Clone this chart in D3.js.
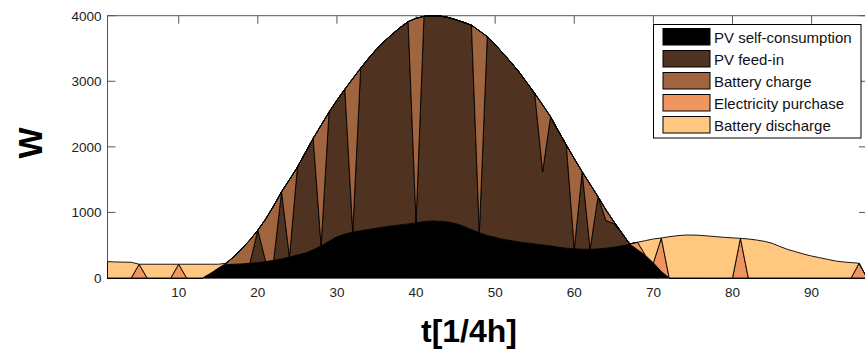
<!DOCTYPE html>
<html>
<head>
<meta charset="utf-8">
<script src="https://cdn.jsdelivr.net/npm/d3@7"></script>
<style>
  body { margin: 0; background: #fff; }
  svg { display: block; font-family: Arial, "Liberation Sans", sans-serif; }
</style>
</head>
<body>
<div id="chart"></div>
<script>
// quarter-hour time steps (one extra step closes the last patch)
const steps = d3.range(1, 98);

const seriesNames = ['PV self-consumption', 'PV feed-in', 'Battery charge', 'Electricity purchase', 'Battery discharge'];
const seriesColors = ['#000000', '#503220', '#a0643f', '#ef955f', '#ffc77f'];

const selfConsumption = [
  0, 0, 0, 0, 0, 0, 0, 0, 0, 0, 0, 0, 0, 70, 150, 205, 210, 215, 225, 235,
  250, 270, 290, 320, 350, 380, 430, 490, 560, 630, 670, 700, 720, 740, 760, 780, 795, 810, 825, 840,
  860, 870, 865, 855, 830, 790, 740, 690, 650, 620, 590, 570, 550, 535, 520, 505, 490, 470, 455, 445,
  440, 438, 445, 455, 470, 490, 510, 430, 345, 230, 100, 0, 0, 0, 0, 0, 0, 0, 0, 0,
  0, 0, 0, 0, 0, 0, 0, 0, 0, 0, 0, 0, 0, 0, 0, 0, 0
];
const pvFeedIn = [
  0, 0, 0, 0, 0, 0, 0, 0, 0, 0, 0, 0, 0, 0, 0, 0, 0, 0, 0, 495,
  0, 0, 1026, 0, 1340, 1530, 1700, 0, 1970, 2080, 2210, 0, 2480, 2610, 2730, 2830, 2925, 3010, 3085, 0,
  3130, 3130, 3130, 3120, 3110, 3110, 3115, 0, 3030, 2940, 2835, 2720, 2595, 2445, 2295, 1115, 1970, 1770, 1572, 0,
  1180, 0, 795, 420, 360, 200, 10, 0, 0, 0, 0, 0, 0, 0, 0, 0, 0, 0, 0, 0,
  0, 0, 0, 0, 0, 0, 0, 0, 0, 0, 0, 0, 0, 0, 0, 0, 0
];
const batteryCharge = [
  0, 0, 0, 0, 0, 0, 0, 0, 0, 0, 0, 0, 0, 0, 0, 20, 120, 235, 355, 0,
  650, 830, 0, 1180, 0, 0, 0, 1840, 0, 0, 0, 2340, 0, 0, 0, 0, 0, 0, 0, 3120,
  0, 0, 0, 0, 0, 0, 0, 3080, 0, 0, 0, 0, 0, 0, 0, 1020, 0, 0, 0, 1375,
  0, 992, 0, 165, 30, 0, 0, 0, 0, 0, 0, 0, 0, 0, 0, 0, 0, 0, 0, 0,
  0, 0, 0, 0, 0, 0, 0, 0, 0, 0, 0, 0, 0, 0, 0, 0, 0
];
const electricityPurchase = [
  0, 0, 0, 0, 210, 0, 0, 0, 0, 210, 0, 0, 0, 0, 0, 0, 0, 0, 0, 0,
  0, 0, 0, 0, 0, 0, 0, 0, 0, 0, 0, 0, 0, 0, 0, 0, 0, 0, 0, 0,
  0, 0, 0, 0, 0, 0, 0, 0, 0, 0, 0, 0, 0, 0, 0, 0, 0, 0, 0, 0,
  0, 0, 0, 0, 0, 0, 0, 115, 0, 0, 510, 0, 0, 0, 0, 0, 0, 0, 0, 0,
  605, 0, 0, 0, 0, 0, 0, 0, 0, 0, 0, 0, 0, 0, 0, 225, 0
];
const batteryDischarge = [
  250, 245, 242, 240, 0, 210, 210, 210, 210, 0, 210, 210, 210, 140, 60, 0, 0, 0, 0, 0,
  0, 0, 0, 0, 0, 0, 0, 0, 0, 0, 0, 0, 0, 0, 0, 0, 0, 0, 0, 0,
  0, 0, 0, 0, 0, 0, 0, 0, 0, 0, 0, 0, 0, 0, 0, 0, 0, 0, 0, 0,
  0, 0, 0, 0, 0, 0, 0, 0, 225, 365, 0, 630, 645, 655, 655, 650, 640, 630, 620, 612,
  0, 595, 580, 560, 530, 480, 435, 400, 365, 335, 310, 285, 260, 245, 235, 0, 0
];

const xTicks = [10, 20, 30, 40, 50, 60, 70, 80, 90];
const yTicks = [0, 1000, 2000, 3000, 4000];

const W = 865, H = 351;
const plot = {left: 107.5, top: 15.7, right: 867, bottom: 278};

const svg = d3.select('#chart').append('svg').attr('width', W).attr('height', H);

const x = d3.scaleLinear().domain([1, 97]).range([plot.left, plot.right]);
const y = d3.scaleLinear().domain([0, 4000]).range([plot.bottom, plot.top]);

// table for the stack
const table = steps.map((t, i) => ({
  t: t,
  s0: selfConsumption[i], s1: pvFeedIn[i], s2: batteryCharge[i],
  s3: electricityPurchase[i], s4: batteryDischarge[i]
}));
const keys = ['s0', 's1', 's2', 's3', 's4'];
const stacked = d3.stack().keys(keys)(table);

// axes box + inward ticks (drawn below the areas, like matlab)
const axisColor = '#555';
const axes = svg.append('g');
axes.append('rect')
  .attr('x', plot.left).attr('y', plot.top)
  .attr('width', plot.right - plot.left).attr('height', plot.bottom - plot.top)
  .attr('fill', 'none').attr('stroke', axisColor).attr('stroke-width', 1);

const tl = 8;
xTicks.forEach(v => {
  axes.append('line').attr('x1', x(v)).attr('x2', x(v)).attr('y1', plot.bottom).attr('y2', plot.bottom - tl).attr('stroke', axisColor);
  axes.append('line').attr('x1', x(v)).attr('x2', x(v)).attr('y1', plot.top).attr('y2', plot.top + tl).attr('stroke', axisColor);
});
yTicks.forEach(v => {
  axes.append('line').attr('x1', plot.left).attr('x2', plot.left + tl).attr('y1', y(v)).attr('y2', y(v)).attr('stroke', axisColor);
  axes.append('line').attr('x1', plot.right).attr('x2', plot.right - tl).attr('y1', y(v)).attr('y2', y(v)).attr('stroke', axisColor);
});

// stacked areas
const area = d3.area()
  .x(d => x(d.data.t))
  .y0(d => y(d[0]))
  .y1(d => y(d[1]));

svg.append('g').selectAll('path')
  .data(stacked)
  .join('path')
  .attr('d', area)
  .attr('fill', (d, i) => seriesColors[i])
  .attr('stroke', '#000')
  .attr('stroke-width', 0.9)
  .attr('stroke-linejoin', 'round');

// tick labels
svg.append('g').selectAll('text')
  .data(xTicks)
  .join('text')
  .attr('x', d => x(d))
  .attr('y', 296.5)
  .attr('text-anchor', 'middle')
  .attr('font-size', 13.5)
  .attr('fill', '#222')
  .text(d => d);

svg.append('g').selectAll('text')
  .data(yTicks)
  .join('text')
  .attr('x', 101.5)
  .attr('y', d => y(d))
  .attr('dy', '0.36em')
  .attr('text-anchor', 'end')
  .attr('font-size', 13.5)
  .attr('fill', '#222')
  .text(d => d);

// axis titles
svg.append('text')
  .attr('transform', 'translate(41.5,143) rotate(-90)')
  .attr('text-anchor', 'middle')
  .attr('font-size', 33)
  .attr('font-weight', 'bold')
  .text('W');

svg.append('text')
  .attr('x', 469)
  .attr('y', 342)
  .attr('text-anchor', 'middle')
  .attr('font-size', 32)
  .attr('font-weight', 'bold')
  .text('t[1/4h]');

// legend
const legend = svg.append('g');
legend.append('rect')
  .attr('x', 653.5).attr('y', 24.5).attr('width', 207.5).attr('height', 113.5)
  .attr('fill', '#fff').attr('stroke', '#000').attr('stroke-width', 1);

seriesNames.forEach((name, i) => {
  const ry = 28.5 + i * 22;
  legend.append('rect')
    .attr('x', 663).attr('y', ry).attr('width', 47).attr('height', 16.5)
    .attr('fill', seriesColors[i]).attr('stroke', '#000').attr('stroke-width', 1);
  legend.append('text')
    .attr('x', 714).attr('y', ry + 14)
    .attr('font-size', 15)
    .attr('fill', '#111')
    .text(name);
});
</script>
</body>
</html>
